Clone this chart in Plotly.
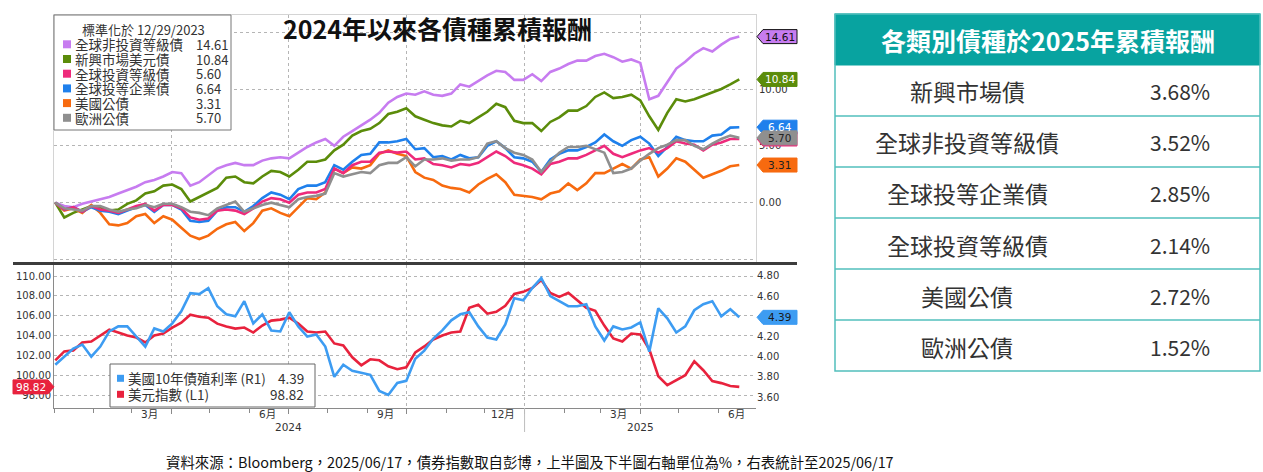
import plotly.graph_objects as go
import pandas as pd

W, H = 1263, 472
CJK = "Noto Sans CJK TC"
NUM = "DejaVu Sans"

# ---------------- data ----------------
dates = pd.date_range("2024-01-02", "2025-06-17", freq="7D")  # weekly samples

hy = [0.0, -0.3, -0.4, -0.1, 0.1, 0.3, 0.5, 0.8, 1.1, 1.4,
      1.8, 2.0, 2.3, 2.7, 2.6, 1.5, 1.8, 2.4, 3.0, 3.3,
      3.5, 3.3, 3.3, 3.7, 3.9, 4.0, 3.9, 4.4, 4.9, 5.3,
      5.6, 5.0, 5.8, 6.3, 6.8, 7.3, 7.9, 8.8, 9.3, 9.6,
      9.5, 9.8, 9.5, 9.4, 9.6, 10.4, 10.2, 10.7, 11.2, 11.6,
      11.5, 10.8, 10.8, 11.3, 10.7, 11.5, 11.8, 12.2, 12.5, 12.5,
      12.9, 13.1, 12.8, 12.4, 12.6, 12.3, 9.1, 9.4, 10.6, 11.8,
      12.4, 13.1, 13.6, 13.3, 13.9, 14.4, 14.61]
em = [0.0, -1.3, -0.9, -0.6, -0.3, -0.4, -0.7, -0.6, -0.1, 0.2,
      0.8, 1.0, 1.5, 1.6, 1.2, 0.1, 0.5, 0.9, 1.3, 2.2,
      2.3, 1.8, 1.7, 2.3, 2.8, 2.7, 2.3, 2.9, 3.6, 3.6,
      3.8, 4.6, 5.1, 5.9, 6.3, 6.5, 7.0, 7.8, 8.0, 8.3,
      7.6, 7.3, 7.0, 6.8, 6.7, 7.2, 7.0, 7.5, 8.0, 8.7,
      8.4, 7.2, 7.0, 7.0, 6.3, 7.1, 7.5, 8.1, 8.1, 8.5,
      9.3, 9.7, 9.2, 9.3, 9.5, 9.0, 7.6, 6.4, 7.9, 9.1,
      8.9, 9.1, 9.4, 9.7, 10.0, 10.4, 10.84]
agg = [0.0, -0.6, -0.4, -0.8, -0.3, -0.6, -0.7, -0.9, -0.6, -0.3,
       -0.1, -0.7, -0.2, -0.2, -0.5, -1.3, -1.5, -1.4, -0.7, -0.6,
       -0.7, -1.0, -0.5, 0.1, 0.4, 0.3, 0.0, 0.7, 0.9, 0.9,
       1.2, 3.0, 2.6, 3.3, 3.6, 3.6, 4.4, 4.5, 4.4, 4.5,
       3.8, 3.9, 3.4, 3.3, 3.1, 3.4, 3.3, 3.5, 4.0, 4.5,
       4.1, 3.5, 3.3, 3.0, 2.5, 3.4, 3.6, 3.9, 3.9, 4.2,
       4.6, 5.0, 4.3, 4.0, 4.3, 4.6, 4.8, 4.4, 4.8, 5.4,
       5.2, 5.1, 4.6, 5.1, 5.3, 5.6, 5.60]
corp = [0.0, -0.6, -0.4, -0.8, -0.4, -0.7, -0.8, -1.0, -0.7, -0.4,
        -0.2, -0.8, -0.2, -0.2, -0.6, -1.6, -1.7, -1.6, -0.7, -0.4,
        -0.4, -0.8, -0.3, 0.4, 0.9, 0.7, 0.3, 1.2, 1.5, 1.5,
        1.8, 3.3, 2.9, 3.6, 4.2, 4.3, 5.3, 5.3, 5.4, 5.6,
        4.7, 4.8, 4.0, 4.1, 3.8, 4.2, 3.9, 4.0, 5.0, 5.4,
        4.8, 4.0, 3.9, 3.6, 2.7, 3.8, 4.3, 4.6, 4.6, 4.9,
        5.3, 6.0, 5.4, 5.0, 5.5, 5.8, 5.2, 4.1, 4.9, 5.8,
        5.5, 5.4, 5.4, 5.9, 6.0, 6.6, 6.64]
ust = [0.0, -0.7, -0.5, -0.9, -0.2, -0.9, -1.9, -2.0, -1.8, -1.2,
       -1.0, -1.8, -1.2, -1.5, -2.2, -2.9, -3.2, -2.9, -2.3, -1.9,
       -1.7, -2.5, -1.8, -0.7, -0.5, -0.9, -1.2, -0.4, 0.4, 0.3,
       0.9, 3.0, 2.6, 3.1, 3.0, 3.3, 4.3, 4.6, 4.3, 4.1,
       2.7, 2.2, 2.0, 1.5, 1.3, 1.2, 0.9, 1.6, 2.1, 2.5,
       1.8, 0.7, 0.6, 0.5, 0.3, 0.8, 1.0, 1.7, 1.1, 1.7,
       2.6, 2.6, 3.0, 3.4, 3.0, 3.8, 4.0, 2.3, 3.0, 3.9,
       3.6, 2.9, 2.2, 2.5, 2.8, 3.2, 3.31]
eur = [0.0, -0.5, -0.6, -0.7, -0.3, -0.3, -0.6, -0.8, -0.6, -0.5,
       -0.2, -0.4, -0.1, -0.1, -0.4, -0.8, -0.9, -1.1, -0.5, -0.2,
       0.1, -0.8, -0.5, -0.2, 0.0, -0.2, -0.4, 0.3, 0.5, 0.6,
       0.8, 2.6, 2.3, 2.5, 2.7, 2.6, 3.3, 3.5, 3.5, 4.0,
       3.2, 3.8, 3.8, 3.9, 3.7, 3.8, 3.8, 4.0, 5.2, 5.4,
       4.8, 4.4, 4.2, 3.8, 2.7, 3.6, 4.4, 4.9, 4.9, 5.0,
       4.7, 4.4, 2.6, 2.7, 3.0, 3.7, 4.3, 4.8, 5.1, 5.5,
       5.5, 5.0, 4.7, 5.2, 5.6, 5.9, 5.70]

dxy = [101.5, 102.4, 102.5, 103.3, 103.4, 104.0, 104.6, 104.3, 104.0, 103.8,
       103.3, 104.0, 104.2, 104.8, 105.3, 106.1, 105.9, 105.8, 105.2, 104.9,
       104.7, 104.8, 104.3, 105.0, 105.5, 105.6, 105.8, 105.2, 104.4, 104.3,
       104.4, 103.2, 103.0, 101.8, 101.0, 101.6, 101.5, 100.9, 100.6, 100.8,
       102.3, 102.9, 103.6, 104.0, 104.3, 104.4, 106.8, 107.1, 106.2, 106.4,
       107.0, 108.2, 108.4, 108.8, 109.6, 108.3, 107.9, 108.3, 107.5, 106.8,
       106.5, 105.0, 103.7, 103.4, 104.2, 104.1, 102.6, 99.9, 99.0, 99.5,
       100.0, 101.4, 100.5, 99.4, 99.2, 98.9, 98.82]
us10y = [3.92, 4.00, 4.08, 4.12, 4.00, 4.10, 4.25, 4.30, 4.30, 4.20,
         4.10, 4.28, 4.25, 4.33, 4.45, 4.63, 4.62, 4.68, 4.50, 4.42,
         4.40, 4.55, 4.33, 4.42, 4.26, 4.25, 4.44, 4.30, 4.20, 4.22,
         4.10, 3.80, 3.92, 3.86, 3.84, 3.82, 3.66, 3.62, 3.74, 3.76,
         3.98, 4.06, 4.18, 4.26, 4.36, 4.42, 4.44, 4.30, 4.19, 4.17,
         4.32, 4.58, 4.56, 4.68, 4.78, 4.60, 4.55, 4.50, 4.50, 4.52,
         4.30, 4.16, 4.30, 4.27, 4.29, 4.34, 4.05, 4.48, 4.38, 4.24,
         4.30, 4.46, 4.52, 4.55, 4.40, 4.47, 4.39]

top_names = ["全球非投資等級債", "新興市場美元債", "全球投資等級債", "全球投等企業債", "美國公債", "歐洲公債"]
top_series = [hy, em, agg, corp, ust, eur]
top_colors = ["#c77cf0", "#5b8c0a", "#ee2a7b", "#1f80ec", "#f76a0f", "#8f8f8f"]
tag_text_colors = ["#111111", "#ffffff", "#ffffff", "#ffffff", "#222222", "#222222"]
draw_order = [0, 1, 4, 3, 2, 5]
tag_order = [0, 1, 3, 2, 5, 4]
hidden_tag = 2  # the 全球投資等級債 tag sits behind the 歐洲公債 tag

bottom_names = ["美國10年債殖利率 (R1)", "美元指數 (L1)"]
bottom_colors = ["#3d9cf2", "#e8223d"]

legend_title = "標準化於 12/29/2023"
chart_title = "2024年以來各債種累積報酬"
footer = "資料來源：Bloomberg，2025/06/17，債券指數取自彭博，上半圖及下半圖右軸單位為%，右表統計至2025/06/17"

quarter_starts = ["2024-04-01", "2024-07-01", "2024-10-01", "2025-01-01", "2025-04-01"]
month_label_dates = ["2024-03-15", "2024-06-15", "2024-09-15", "2024-12-15", "2025-03-15", "2025-06-15"]
month_labels = ["3月", "6月", "9月", "12月", "3月", "6月"]
year_label_dates = ["2024-07-01", "2025-04-01"]
year_labels = ["2024", "2025"]
year_break = "2025-01-01"
x_range = ["2024-01-01", "2025-06-30"]

top_ticks = [-5, 0, 5, 10, 15]
top_ticktext = ["", "0.00", "5.00", "10.00", ""]
left_ticks = [98, 100, 102, 104, 106, 108, 110]
right_ticks = [3.6, 3.8, 4.0, 4.2, 4.4, 4.6, 4.8]
right_ticktext = ["3.60", "3.80", "4.00", "4.20", "", "4.60", "4.80"]  # 4.40 sits under the tag

table_title = "各類別債種於2025年累積報酬"
table_names = ["新興市場債", "全球非投資等級債", "全球投等企業債", "全球投資等級債", "美國公債", "歐洲公債"]
table_values = [3.68, 3.52, 2.85, 2.14, 2.72, 1.52]

# ---------------- layout helpers ----------------
def fx(px):
    return px / W

def fy(py):
    return 1 - py / H

TOP_RANGE = [-5.22, 16.51]
LEFT_RANGE = [96.69, 111.11]
RIGHT_RANGE = [3.491, 4.909]
top_ppu = (262 - 15) / (TOP_RANGE[1] - TOP_RANGE[0])
left_ppu = (408 - 265) / (LEFT_RANGE[1] - LEFT_RANGE[0])
right_ppu = (408 - 265) / (RIGHT_RANGE[1] - RIGHT_RANGE[0])

fig = go.Figure()

for k in draw_order:
    fig.add_trace(go.Scatter(x=dates, y=top_series[k], mode="lines",
                             line=dict(color=top_colors[k], width=2.6),
                             xaxis="x", yaxis="y", showlegend=False, hoverinfo="skip"))

fig.add_trace(go.Scatter(x=dates, y=us10y, mode="lines", line=dict(color=bottom_colors[0], width=2.6),
                         xaxis="x2", yaxis="y3", showlegend=False, hoverinfo="skip"))
fig.add_trace(go.Scatter(x=dates, y=dxy, mode="lines", line=dict(color=bottom_colors[1], width=2.6),
                         xaxis="x2", yaxis="y2", showlegend=False, hoverinfo="skip"))

grid = dict(showgrid=True, gridcolor="#b5b5b5", griddash="dot", gridwidth=1, zeroline=False)
tickfont = dict(family=NUM, size=10, color="#333333")

fig.update_layout(
    width=W, height=H, autosize=False,
    margin=dict(l=0, r=0, t=0, b=0),
    paper_bgcolor="white", plot_bgcolor="white",
    hovermode=False,
    xaxis=dict(domain=[fx(54), fx(756)], anchor="y", type="date", range=x_range,
               tickmode="array", tickvals=quarter_starts, showticklabels=False, ticks="",
               showline=True, linecolor="#d4d4d4", mirror=True, **grid),
    yaxis=dict(domain=[fy(262), fy(15)], anchor="x", side="right", range=TOP_RANGE,
               tickmode="array", tickvals=top_ticks, ticktext=top_ticktext, ticks="",
               tickfont=tickfont, showline=True, linecolor="#d4d4d4", mirror=True, **grid),
    xaxis2=dict(domain=[fx(54), fx(756)], anchor="y2", type="date", range=x_range,
                tickmode="array", tickvals=quarter_starts, showticklabels=False,
                ticks="outside", ticklen=5, tickcolor="#8a8a8a",
                minor=dict(dtick="M1", tick0="2024-01-01", ticks="outside", ticklen=4,
                           tickcolor="#8a8a8a", showgrid=False),
                showline=True, linecolor="#8a8a8a", **grid),
    yaxis2=dict(domain=[fy(408), fy(265)], anchor="x2", side="left", range=LEFT_RANGE,
                tickmode="array", tickvals=left_ticks, ticktext=[f"{v:.2f}" for v in left_ticks],
                ticks="", tickfont=tickfont, showline=True, linecolor="#8a8a8a", **grid),
    yaxis3=dict(overlaying="y2", anchor="x2", side="right", range=RIGHT_RANGE,
                tickmode="array", tickvals=right_ticks, ticktext=right_ticktext,
                ticks="", tickfont=tickfont, showgrid=False, zeroline=False, showline=False),
)

shapes = []
ann = []

# separator between the two panels
shapes.append(dict(type="line", xref="paper", yref="paper", x0=fx(13), x1=fx(797),
                   y0=fy(263.5), y1=fy(263.5), line=dict(color="#3c3c3c", width=3), layer="above"))
# year break marker
shapes.append(dict(type="line", xref="x2", yref="paper", x0=year_break, x1=year_break,
                   y0=fy(408), y1=fy(432), line=dict(color="#bdbdbd", width=1)))

# value tags
def right_tag(val, yref, ppu, fill, tcolor, border=None, show_text=True):
    h = 7.0 / ppu
    xl, xp, xr = fx(757), fx(763), fx(797)
    path = (f"M {xl},{val} L {xp},{val + h} L {xr},{val + h} "
            f"L {xr},{val - h} L {xp},{val - h} Z")
    shapes.append(dict(type="path", xref="paper", yref=yref, path=path, fillcolor=fill,
                       line=dict(color=border if border else fill, width=1), layer="above"))
    if show_text:
        ann.append(dict(xref="paper", yref=yref, x=fx(780), y=val, text=f"{val:.2f}",
                        showarrow=False, xanchor="center", yanchor="middle",
                        font=dict(family=NUM, size=10.5, color=tcolor)))

for k in tag_order:
    right_tag(top_series[k][-1], "y", top_ppu, top_colors[k], tag_text_colors[k],
              border="#111111" if k == 0 else None, show_text=(k != hidden_tag))
right_tag(us10y[-1], "y3", right_ppu, bottom_colors[0], "#1a1a1a")

# left tag for the dollar index
v = dxy[-1]
h = 7.0 / left_ppu
shapes.append(dict(type="path", xref="paper", yref="y2",
                   path=(f"M {fx(13)},{v + h} L {fx(48)},{v + h} L {fx(54)},{v} "
                         f"L {fx(48)},{v - h} L {fx(13)},{v - h} Z"),
                   fillcolor=bottom_colors[1], line=dict(color=bottom_colors[1], width=1), layer="above"))
ann.append(dict(xref="paper", yref="y2", x=fx(31), y=v, text=f"{v:.2f}", showarrow=False,
                xanchor="center", yanchor="middle", font=dict(family=NUM, size=10.5, color="white")))

# month / year labels
for d, t in zip(month_label_dates, month_labels):
    ann.append(dict(xref="x2", yref="paper", x=d, y=fy(414), text=t, showarrow=False,
                    xanchor="center", yanchor="middle",
                    font=dict(family=f"{NUM}, {CJK}", size=10.5, color="#333333")))
for d, t in zip(year_label_dates, year_labels):
    ann.append(dict(xref="x2", yref="paper", x=d, y=fy(427), text=t, showarrow=False,
                    xanchor="center", yanchor="middle",
                    font=dict(family=NUM, size=10.5, color="#333333")))

# title
ann.append(dict(xref="paper", yref="paper", x=fx(437), y=fy(28), text=f"<b>{chart_title}</b>",
                showarrow=False, xanchor="center", yanchor="middle",
                font=dict(family=CJK, size=25, color="#111111")))

# top legend box
shapes.append(dict(type="rect", xref="paper", yref="paper", x0=fx(54), x1=fx(231),
                   y0=fy(130), y1=fy(15), fillcolor="white", line=dict(color="#777777", width=1),
                   layer="above"))
ann.append(dict(xref="paper", yref="paper", x=fx(143), y=fy(29.5), text=legend_title,
                showarrow=False, xanchor="center", yanchor="middle",
                font=dict(family=CJK, size=13, color="#333333")))
for i, k in enumerate(range(len(top_names))):
    yc = 44.3 + 14.7 * i
    shapes.append(dict(type="rect", xref="paper", yref="paper", x0=fx(63), x1=fx(71),
                       y0=fy(yc + 4), y1=fy(yc - 4), fillcolor=top_colors[k],
                       line=dict(width=0), layer="above"))
    ann.append(dict(xref="paper", yref="paper", x=fx(73), y=fy(yc), text=top_names[k],
                    showarrow=False, xanchor="left", yanchor="middle",
                    font=dict(family=CJK, size=13.5, color="#333333")))
    ann.append(dict(xref="paper", yref="paper", x=fx(194), y=fy(yc), text=f"{top_series[k][-1]:.2f}",
                    showarrow=False, xanchor="left", yanchor="middle",
                    font=dict(family=CJK, size=13, color="#333333")))

# bottom legend box
shapes.append(dict(type="rect", xref="paper", yref="paper", x0=fx(110), x1=fx(315),
                   y0=fy(407), y1=fy(364), fillcolor="white", line=dict(color="#666666", width=1),
                   layer="above"))
bottom_last = [us10y[-1], dxy[-1]]
for i in range(2):
    yc = 378.3 + 16 * i
    shapes.append(dict(type="rect", xref="paper", yref="paper", x0=fx(117), x1=fx(124),
                       y0=fy(yc + 3.5), y1=fy(yc - 3.5), fillcolor=bottom_colors[i],
                       line=dict(width=0), layer="above"))
    ann.append(dict(xref="paper", yref="paper", x=fx(126), y=fy(yc), text=bottom_names[i],
                    showarrow=False, xanchor="left", yanchor="middle",
                    font=dict(family=CJK, size=13.5, color="#333333")))
    ann.append(dict(xref="paper", yref="paper", x=fx(306), y=fy(yc), text=f"{bottom_last[i]:.2f}",
                    showarrow=False, xanchor="right", yanchor="middle",
                    font=dict(family=CJK, size=13.5, color="#333333")))

# table on the right
TEAL = "#08a3a0"
BORDER = "#52bfbc"
tx0, tx1, ty0, thead, trow = 835, 1260, 14, 65, 51
shapes.append(dict(type="rect", xref="paper", yref="paper", x0=fx(tx0), x1=fx(tx1),
                   y0=fy(thead), y1=fy(ty0), fillcolor=TEAL, line=dict(color=TEAL, width=1)))
n = len(table_names)
shapes.append(dict(type="rect", xref="paper", yref="paper", x0=fx(tx0), x1=fx(tx1),
                   y0=fy(thead + trow * n), y1=fy(ty0), fillcolor="rgba(0,0,0,0)",
                   line=dict(color=BORDER, width=1.5)))
for i in range(1, n):
    yy = thead + trow * i
    shapes.append(dict(type="line", xref="paper", yref="paper", x0=fx(tx0), x1=fx(tx1),
                       y0=fy(yy), y1=fy(yy), line=dict(color=BORDER, width=1.5)))
ann.append(dict(xref="paper", yref="paper", x=fx((tx0 + tx1) / 2), y=fy(40),
                text=f"<b>{table_title}</b>", showarrow=False, xanchor="center", yanchor="middle",
                font=dict(family=CJK, size=25, color="white")))
for i, (nm, val) in enumerate(zip(table_names, table_values)):
    yc = thead + trow * (i + 0.5) + 1
    ann.append(dict(xref="paper", yref="paper", x=fx(967), y=fy(yc), text=nm, showarrow=False,
                    xanchor="center", yanchor="middle", font=dict(family=CJK, size=23, color="#333333")))
    ann.append(dict(xref="paper", yref="paper", x=fx(1180), y=fy(yc), text=f"{val:.2f}%",
                    showarrow=False, xanchor="center", yanchor="middle",
                    font=dict(family=CJK, size=21, color="#333333")))

# footer
ann.append(dict(xref="paper", yref="paper", x=fx(530), y=fy(461), text=footer, showarrow=False,
                xanchor="center", yanchor="middle", font=dict(family=CJK, size=14.4, color="#111111")))

fig.update_layout(shapes=shapes, annotations=ann)

fig.write_html("out.html", config={"displayModeBar": False},
               post_script="document.body.style.margin='0px';")
